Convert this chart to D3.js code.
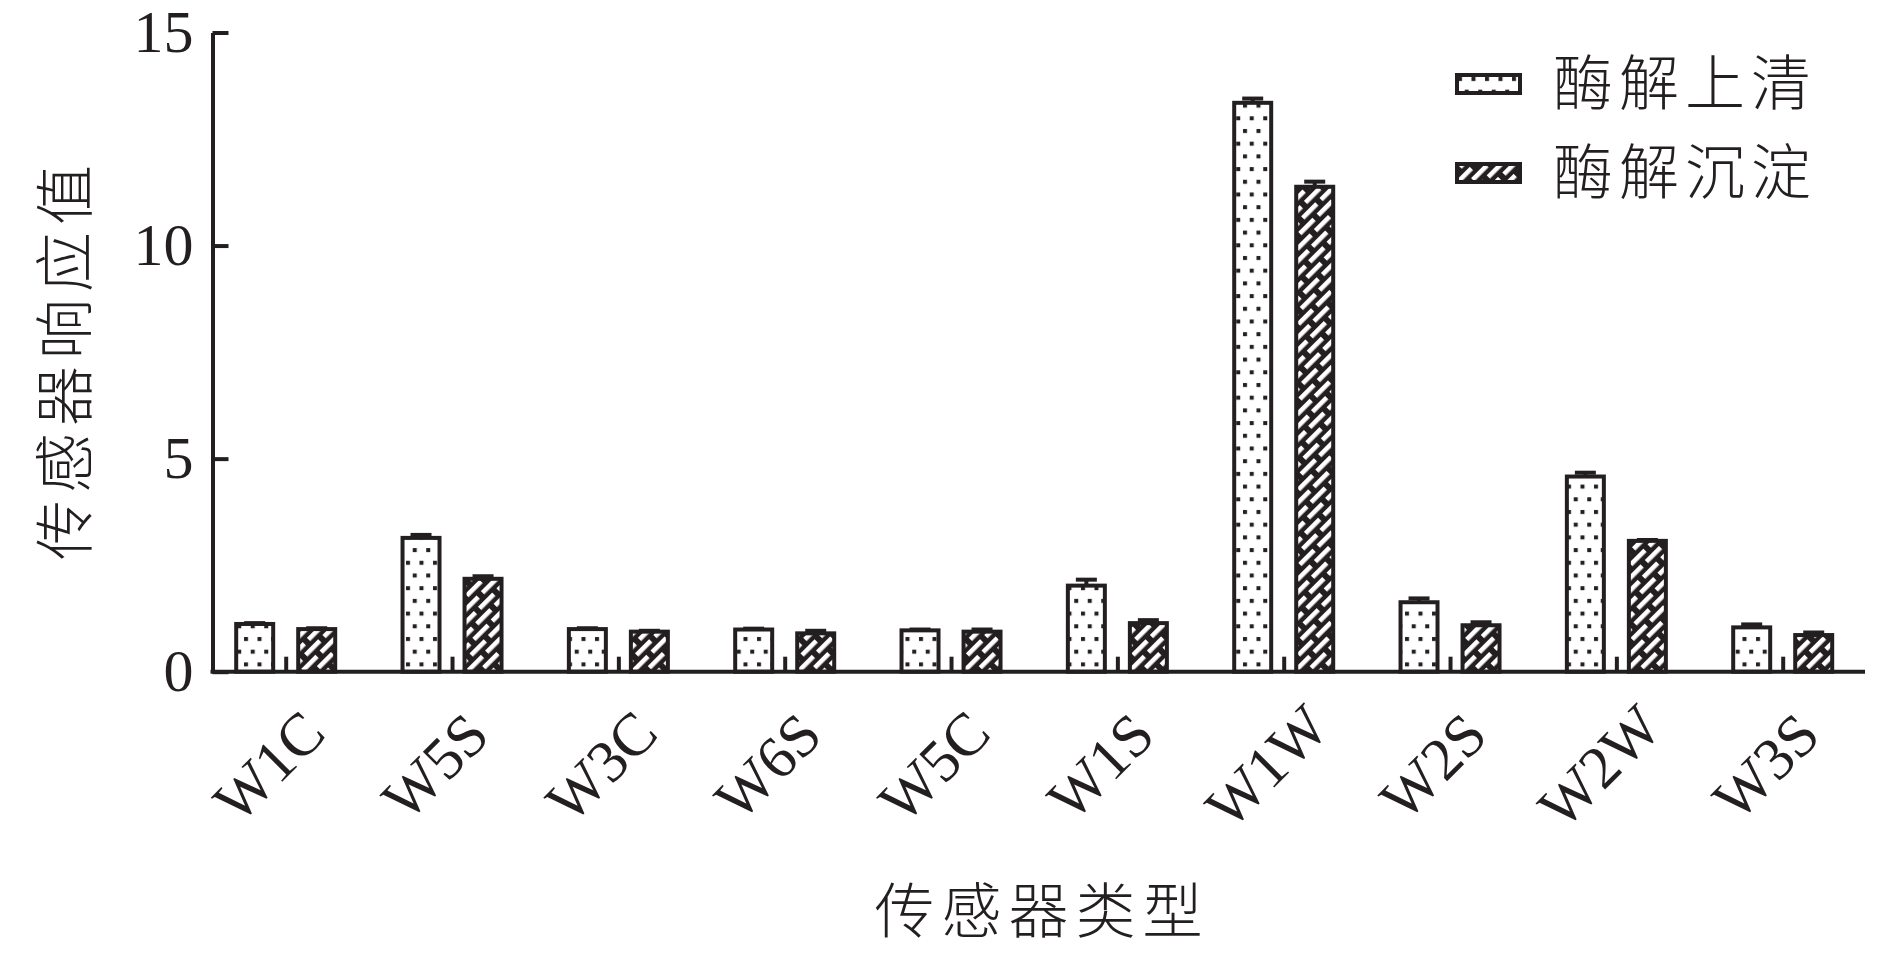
<!DOCTYPE html>
<html>
<head>
<meta charset="utf-8">
<script src="https://cdn.jsdelivr.net/npm/d3@7"></script>
<style>
  html, body { margin: 0; padding: 0; background: #fff; }
  svg { display: block; }
</style>
</head>
<body>
<svg id="chart" width="1890" height="954"></svg>
<script>
// ---- data ----
const categories = ["W1C", "W5S", "W3C", "W6S", "W5C", "W1S", "W1W", "W2S", "W2W", "W3S"];
const seriesNames = ["酶解上清", "酶解沉淀"];
const supernatant = [1.12, 3.14, 1.00, 0.99, 0.97, 2.02, 13.35, 1.63, 4.58, 1.04];
const supernatantErr = [0.02, 0.07, 0.02, 0.02, 0.02, 0.14, 0.10, 0.09, 0.09, 0.07];
const sediment = [1.00, 2.18, 0.94, 0.90, 0.94, 1.14, 11.38, 1.09, 3.07, 0.86];
const sedimentErr = [0.02, 0.06, 0.02, 0.06, 0.05, 0.07, 0.12, 0.07, 0.02, 0.06];
const yTicks = [0, 5, 10, 15];
const yTitle = "传感器响应值";
const xTitle = "传感器类型";

// ---- layout ----
const ink = "#231f20";
const axisX = 212.5, axisEnd = 1865, baseY = 671.7, topY = 32.5;
const svg = d3.select("#chart");

const x = d3.scalePoint().domain(categories).range([285.7, 1782.7]);
const x1 = d3.scaleBand().domain(seriesNames).range([-51.5, 51.5]).paddingInner(0.339);
const y = d3.scaleLinear().domain([0, 15]).range([baseY, topY]);

// ---- patterns ----
const defs = svg.append("defs");
const dots = defs.append("pattern").attr("id", "dots")
  .attr("patternUnits", "userSpaceOnUse").attr("width", 13.5).attr("height", 25.4);
dots.append("rect").attr("width", 13.5).attr("height", 25.4).attr("fill", "#fff");
dots.append("rect").attr("x", 1).attr("y", 2).attr("width", 4).attr("height", 4).attr("fill", ink);
dots.append("rect").attr("x", 7.75).attr("y", 14.7).attr("width", 4).attr("height", 4).attr("fill", ink);

const hatch = defs.append("pattern").attr("id", "hatch")
  .attr("patternUnits", "userSpaceOnUse").attr("width", 26).attr("height", 18)
  .attr("patternTransform", "rotate(-45)");
hatch.append("rect").attr("width", 26).attr("height", 18).attr("fill", ink);
hatch.append("rect").attr("x", 0).attr("y", 2).attr("width", 20).attr("height", 4.6).attr("fill", "#fff");
hatch.append("rect").attr("x", 13).attr("y", 11).attr("width", 20).attr("height", 4.6).attr("fill", "#fff");
hatch.append("rect").attr("x", -13).attr("y", 11).attr("width", 20).attr("height", 4.6).attr("fill", "#fff");

const fills = { "酶解上清": "url(#dots)", "酶解沉淀": "url(#hatch)" };
const series = [
  { name: seriesNames[0], values: supernatant, errs: supernatantErr },
  { name: seriesNames[1], values: sediment, errs: sedimentErr }
];

// ---- bars ----
const gBars = svg.append("g");
series.forEach(s => {
  const rows = categories.map((c, i) => ({ c, v: s.values[i], e: s.errs[i] }));
  const g = gBars.append("g");
  const cx = d => x(d.c) + x1(s.name) + x1.bandwidth() / 2;
  // error bars
  g.selectAll("line.stem").data(rows).join("line")
    .attr("x1", cx).attr("x2", cx)
    .attr("y1", d => y(d.v)).attr("y2", d => y(d.v + d.e))
    .attr("stroke", ink).attr("stroke-width", 4);
  g.selectAll("line.cap").data(rows).join("line")
    .attr("x1", d => cx(d) - 10.5).attr("x2", d => cx(d) + 10.5)
    .attr("y1", d => y(d.v + d.e)).attr("y2", d => y(d.v + d.e))
    .attr("stroke", ink).attr("stroke-width", 4);
  g.selectAll("rect").data(rows).join("rect")
    .attr("x", d => x(d.c) + x1(s.name) + 2)
    .attr("width", x1.bandwidth() - 4)
    .attr("y", d => y(d.v))
    .attr("height", d => y(0) - y(d.v))
    .attr("fill", fills[s.name])
    .attr("stroke", ink).attr("stroke-width", 4);
});

// ---- axes ----
const yAxis = svg.append("g").attr("transform", `translate(${axisX},0)`)
  .call(d3.axisLeft(y).tickValues(yTicks).tickSize(-16).tickSizeOuter(0).tickPadding(19));
yAxis.select(".domain").attr("stroke", ink).attr("stroke-width", 4);
yAxis.selectAll(".tick line").attr("stroke", ink).attr("stroke-width", 4);
yAxis.selectAll(".tick text")
  .attr("font-family", "'Liberation Serif', 'Times New Roman', serif")
  .attr("font-size", 60).attr("fill", ink);

svg.append("line")
  .attr("x1", axisX - 2).attr("x2", axisEnd)
  .attr("y1", y(0)).attr("y2", y(0))
  .attr("stroke", ink).attr("stroke-width", 4);

const xAxis = svg.append("g").attr("transform", `translate(0,${y(0)})`)
  .call(d3.axisBottom(x).tickSize(-15).tickSizeOuter(0));
xAxis.select(".domain").remove();
xAxis.selectAll(".tick line").attr("stroke", ink).attr("stroke-width", 4);
xAxis.selectAll(".tick text")
  .attr("y", 0).attr("dy", 0)
  .attr("text-anchor", "middle")
  .attr("transform", "translate(-3,109) rotate(-45)")
  .attr("font-family", "'Liberation Serif', 'Times New Roman', serif")
  .attr("font-size", 60).attr("fill", ink);

// ---- titles ----
const cjk = "'Noto Sans CJK SC', 'Noto Sans CJK JP', sans-serif";
svg.append("text")
  .attr("transform", "translate(66,359) rotate(-90)")
  .attr("text-anchor", "middle").attr("dy", "0.35em")
  .attr("font-family", cjk).attr("font-size", 60).attr("font-weight", 300)
  .attr("letter-spacing", 7).attr("fill", ink)
  .text(yTitle);
svg.append("text")
  .attr("x", 1042).attr("y", 912)
  .attr("text-anchor", "middle").attr("dy", "0.35em")
  .attr("font-family", cjk).attr("font-size", 60).attr("font-weight", 300)
  .attr("letter-spacing", 7).attr("fill", ink)
  .text(xTitle);

// ---- legend ----
const legend = svg.append("g").attr("transform", "translate(1457,75)");
const ly = d3.scalePoint().domain(seriesNames).range([0, 89]);
seriesNames.forEach(name => {
  const g = legend.append("g").attr("transform", `translate(0,${ly(name)})`);
  g.append("rect").attr("width", 63).attr("height", 18)
    .attr("fill", fills[name]).attr("stroke", ink).attr("stroke-width", 4);
  g.append("text").attr("x", 96).attr("y", 9).attr("dy", "0.35em")
    .attr("font-family", cjk).attr("font-size", 60).attr("font-weight", 300)
    .attr("letter-spacing", 6).attr("fill", ink)
    .text(name);
});
</script>
</body>
</html>
